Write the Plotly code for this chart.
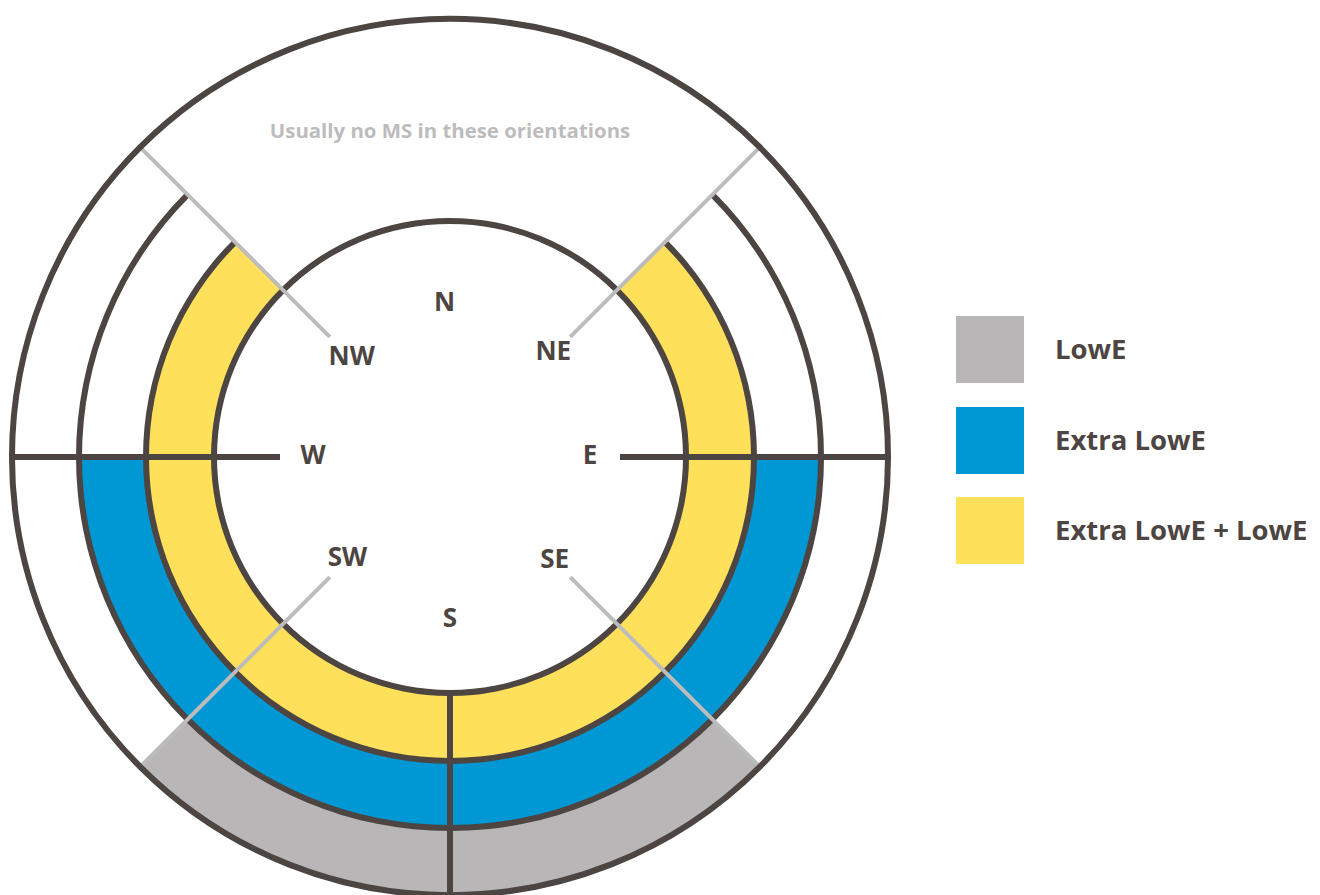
import plotly.graph_objects as go

# ---------------- data ----------------
categories = ["LowE", "Extra LowE", "Extra LowE + LowE"]
sector_start = [135, 90, 45]      # compass degrees (clockwise from N)
sector_end = [225, 270, 315]
compass_labels = ["N", "NE", "E", "SE", "S", "SW", "W", "NW"]
compass_angles = [0, 45, 90, 135, 180, 225, 270, 315]
note_text = "Usually no MS in these orientations"

# ---------------- style / layout constants ----------------
DARK = "#4c4542"
LIGHT = "#bdbcbc"
FILL = {"LowE": "#b8b6b6", "Extra LowE": "#0098d4", "Extra LowE + LowE": "#ffe05a"}
FONT = "Open Sans"
R_MAX = 438
R_INNER = 236
RING_EDGES = {"Extra LowE + LowE": (236, 304), "Extra LowE": (304, 371), "LowE": (371, 438)}
LABEL_R = [153, 146, 140, 148, 163, 145, 137, 139]
LABEL_DTHETA = [-2, 0, 0, 0, 0, 0, 0, 0]
LINE_W = 6

fig = go.Figure()

# ring fills
for cat, a0, a1 in zip(categories, sector_start, sector_end):
    lo, hi = RING_EDGES[cat]
    fig.add_trace(go.Barpolar(
        theta=[(a0 + a1) / 2], width=[a1 - a0], base=[lo], r=[hi - lo],
        marker=dict(color=FILL[cat], line=dict(width=0)),
        showlegend=False, hoverinfo="skip"))

# dark arcs (thin bars): inner circle, and outer borders of the yellow/blue rings
arc_theta = [0, 180, 180]
arc_width = [360, 270, 270]
arc_r = [R_INNER, 304, 371]
fig.add_trace(go.Barpolar(
    theta=arc_theta, width=arc_width, base=[r - LINE_W / 2 for r in arc_r],
    r=[LINE_W] * len(arc_r),
    marker=dict(color=DARK, line=dict(width=0)),
    showlegend=False, hoverinfo="skip"))

# dark radial lines W / E / S
fig.add_trace(go.Scatterpolar(
    r=[170, R_MAX, None, 170, R_MAX, None, R_INNER, R_MAX],
    theta=[270, 270, None, 90, 90, None, 180, 180],
    mode="lines", line=dict(color=DARK, width=LINE_W),
    showlegend=False, hoverinfo="skip", connectgaps=False))

# light diagonal lines
diag_r, diag_t = [], []
for a in [45, 135, 225, 315]:
    diag_r += [170, R_MAX, None]
    diag_t += [a, a, None]
fig.add_trace(go.Scatterpolar(
    r=diag_r, theta=diag_t, mode="lines",
    line=dict(color=LIGHT, width=4),
    showlegend=False, hoverinfo="skip", connectgaps=False))

# compass labels
fig.add_trace(go.Scatterpolar(
    r=LABEL_R, theta=[a + d for a, d in zip(compass_angles, LABEL_DTHETA)],
    text=compass_labels, mode="text",
    textfont=dict(family=FONT, size=26, color=DARK, weight="bold"),
    showlegend=False, hoverinfo="skip"))

# note
fig.add_trace(go.Scatterpolar(
    r=[324], theta=[0], text=[note_text], mode="text",
    textfont=dict(family=FONT, size=20.4, color=LIGHT, weight="bold"),
    showlegend=False, hoverinfo="skip"))

W, H = 1320, 895
# legend (squares + labels)
sq_top = [316, 407, 497]
shapes, annotations = [], []
for cat, top in zip(categories, sq_top):
    shapes.append(dict(type="rect", xref="paper", yref="paper",
                       x0=956 / W, x1=1024 / W, y0=1 - (top + 67) / H, y1=1 - top / H,
                       fillcolor=FILL[cat], line=dict(width=0)))
    annotations.append(dict(text=cat, xref="paper", yref="paper",
                            x=1053 / W, y=1 - (top + 32) / H,
                            xanchor="left", yanchor="middle", showarrow=False,
                            font=dict(family=FONT, size=27.5, color=DARK, weight="bold")))

fig.update_layout(
    width=W, height=H,
    margin=dict(l=0, r=0, t=0, b=0),
    paper_bgcolor="white", plot_bgcolor="white",
    shapes=shapes, annotations=annotations,
    polar=dict(
        domain=dict(x=[12 / W, 888 / W], y=[0, 876 / H]),
        bgcolor="white",
        barmode="overlay",
        radialaxis=dict(visible=False, range=[0, R_MAX]),
        angularaxis=dict(rotation=90, direction="clockwise",
                         showline=True, linecolor=DARK, linewidth=LINE_W,
                         showgrid=False, ticks="", showticklabels=False),
    ),
)

fig.write_html("out.html", config={"displayModeBar": False},
               post_script="document.body.style.margin='0';")
